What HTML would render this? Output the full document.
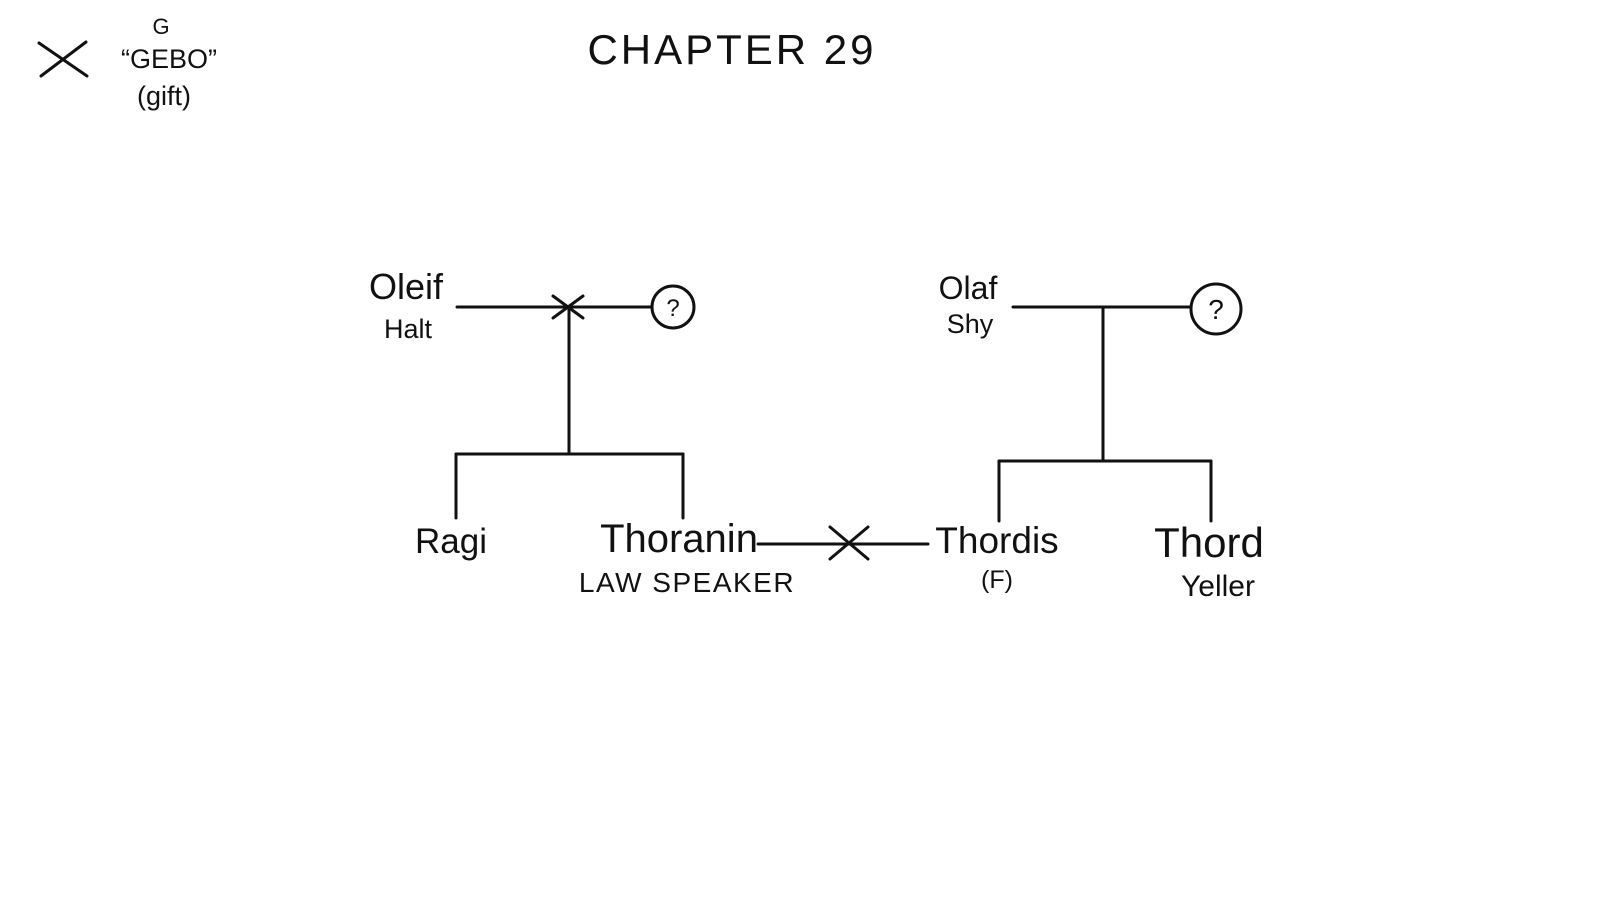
<!DOCTYPE html>
<html><head><meta charset="utf-8"><style>
html,body{margin:0;padding:0;background:#fff;width:1600px;height:900px;overflow:hidden}
svg text{font-family:"Liberation Sans",sans-serif;fill:#111;text-anchor:middle}
</style></head><body>
<svg width="1600" height="900" viewBox="0 0 1600 900" xmlns="http://www.w3.org/2000/svg">
<g stroke="#111" stroke-width="3" fill="none" stroke-linecap="round">
<line x1="39" y1="43" x2="87" y2="76"/><line x1="86" y1="42" x2="41" y2="76"/>
<line x1="457" y1="307" x2="651" y2="307"/>
<line x1="553" y1="296" x2="583" y2="318"/><line x1="583" y1="296" x2="553" y2="318"/>
<circle cx="673" cy="307" r="21"/>
<line x1="569" y1="307" x2="569" y2="454"/>
<line x1="456" y1="454" x2="683" y2="454"/>
<line x1="456" y1="454" x2="456" y2="518"/><line x1="683" y1="454" x2="683" y2="518"/>
<line x1="1013" y1="307" x2="1191" y2="307"/>
<circle cx="1216" cy="309" r="25"/>
<line x1="1103" y1="307" x2="1103" y2="461"/>
<line x1="999" y1="461" x2="1211" y2="461"/>
<line x1="999" y1="461" x2="999" y2="521"/><line x1="1211" y1="461" x2="1211" y2="521"/>
<line x1="758" y1="544" x2="928" y2="544"/>
<line x1="830" y1="527" x2="868" y2="559"/><line x1="868" y1="527" x2="830" y2="559"/>
</g>
<text x="673" y="316" font-size="24">?</text>
<text x="1216" y="319" font-size="28">?</text>
<text x="732" y="64" font-size="42" letter-spacing="3">CHAPTER 29</text>
<text x="161" y="34" font-size="22">G</text>
<text x="169" y="68" font-size="27">“GEBO”</text>
<text x="164" y="105" font-size="27">(gift)</text>
<text x="406" y="299" font-size="36">Oleif</text>
<text x="408" y="338" font-size="27">Halt</text>
<text x="968" y="299" font-size="32">Olaf</text>
<text x="970" y="333" font-size="27">Shy</text>
<text x="451" y="553" font-size="35">Ragi</text>
<text x="679" y="552" font-size="40">Thoranin</text>
<text x="687" y="592" font-size="28" letter-spacing="1.5">LAW SPEAKER</text>
<text x="997" y="553" font-size="37">Thordis</text>
<text x="997" y="588" font-size="25">(F)</text>
<text x="1209" y="557" font-size="42">Thord</text>
<text x="1218" y="596" font-size="30">Yeller</text>
</svg>
</body></html>
